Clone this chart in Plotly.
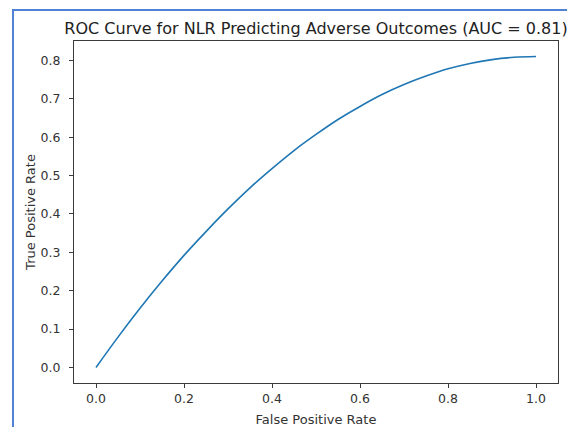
import plotly.graph_objects as go

# Values
fpr = [0.0, 0.05, 0.1, 0.15, 0.2, 0.25, 0.3, 0.35, 0.4, 0.45, 0.5,
       0.55, 0.6, 0.65, 0.7, 0.75, 0.8, 0.85, 0.9, 0.95, 1.0]
tpr = [0.0, 0.079, 0.154, 0.225, 0.292, 0.354, 0.413, 0.468, 0.518, 0.565, 0.607,
       0.646, 0.680, 0.711, 0.737, 0.759, 0.778, 0.792, 0.802, 0.808, 0.81]
auc_value = 0.81

x_ticks = [0.0, 0.2, 0.4, 0.6, 0.8, 1.0]
y_ticks = [0.0, 0.1, 0.2, 0.3, 0.4, 0.5, 0.6, 0.7, 0.8]

FONT = "DejaVu Sans"
AX = "#3a3a3a"

fig = go.Figure()
fig.add_trace(go.Scatter(
    x=fpr, y=tpr, mode="lines",
    line=dict(color="#1f77b4", width=1.6, shape="spline"),
    showlegend=False,
))

# page has an 8px body margin, so the figure is sized to the visible area
W, H = 567, 419
fig.update_layout(
    width=W, height=H,
    margin=dict(l=66, r=17, t=33, b=44, autoexpand=False),
    paper_bgcolor="white", plot_bgcolor="white",
    font=dict(family=FONT, color="#333333"),
    title=dict(
        text=f"ROC Curve for NLR Predicting Adverse Outcomes (AUC = {auc_value:.2f})",
        x=0.5, xref="paper", xanchor="center",
        y=1 - 20 / H, yref="container", yanchor="middle",
        font=dict(family=FONT, size=16, color="#222222"),
    ),
    xaxis=dict(
        range=[-0.05, 1.05], tickvals=x_ticks, ticktext=[f"{v:.1f}" for v in x_ticks],
        showgrid=False, zeroline=False, showline=True, linecolor=AX, linewidth=1,
        mirror=True, ticks="outside", ticklen=4, tickcolor=AX, automargin=False,
        tickfont=dict(family=FONT, size=12.5, color="#333333"),
        title=dict(text="False Positive Rate", standoff=9,
                   font=dict(family=FONT, size=13, color="#333333")),
    ),
    yaxis=dict(
        range=[-0.0405, 0.8505], tickvals=y_ticks, ticktext=[f"{v:.1f}" for v in y_ticks],
        showgrid=False, zeroline=False, showline=True, linecolor=AX, linewidth=1,
        mirror=True, ticks="outside", ticklen=4, tickcolor=AX, automargin=False,
        ticklabelstandoff=6,
        tickfont=dict(family=FONT, size=12.5, color="#333333"),
        title=dict(text="True Positive Rate", standoff=2,
                   font=dict(family=FONT, size=13, color="#333333")),
    ),
)

# Blue frame around the figure (left and top edges visible)
fig.add_shape(
    type="path", xref="paper", yref="paper",
    path="M -0.126 -0.2 L -0.126 1.0906 L 1.1 1.0906",
    line=dict(color="#4f81d6", width=2),
)

fig.write_html("out.html")
